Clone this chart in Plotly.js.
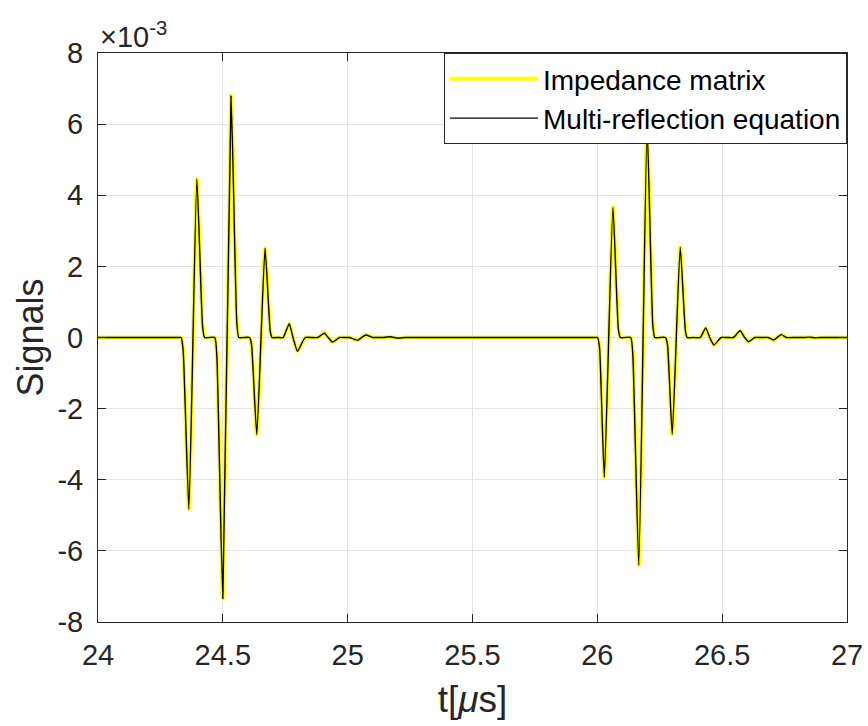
<!DOCTYPE html>
<html>
<head>
<meta charset="utf-8">
<script src="https://cdn.plot.ly/plotly-3.0.1.min.js"></script>
<style>html,body{margin:0;padding:0;background:#fff;}#chart{width:868px;height:726px;}</style>
</head>
<body>
<div id="chart"></div>
<script>
// time axis in microseconds
const timeUs = [
  24.000, 24.100, 24.200, 24.300, 24.320, 24.333, 24.341, 24.364, 24.396, 24.419, 24.427, 24.447,
  24.468, 24.476, 24.500, 24.533, 24.556, 24.564, 24.585,
  24.607, 24.615, 24.636, 24.669, 24.690, 24.697, 24.720,
  24.742, 24.754, 24.766, 24.781, 24.799, 24.815, 24.830, 24.855,
  24.880, 24.907, 24.922, 24.940, 24.967, 24.987,
  25.007, 25.040, 25.056, 25.073, 25.100, 25.120,
  25.140, 25.170, 25.203, 25.230, 25.260, 25.400, 25.600, 25.800, 25.970, 25.988,
  26.001, 26.009, 26.028, 26.0625, 26.084, 26.092, 26.112,
  26.134, 26.142, 26.166, 26.1995, 26.222, 26.230, 26.250,
  26.273, 26.281, 26.300, 26.332, 26.353, 26.360, 26.385,
  26.412, 26.434, 26.450, 26.467, 26.496, 26.520,
  26.545, 26.572, 26.590, 26.606, 26.630, 26.657,
  26.684, 26.706, 26.720, 26.737, 26.757, 26.790,
  26.830, 26.848, 26.875, 26.890, 26.940, 27.000
];
// signal values, in units of 1e-3
const signalE3 = [
  0, 0, 0, 0, 0, 0, -0.35, -4.83, 4.46, 0.30, 0, 0,
  0, -0.52, -7.34, 6.79, 0.42, 0, 0,
  0, -0.20, -2.73, 2.51, 0.17, 0, 0,
  0, 0.20, 0.39, 0, -0.39, -0.18, 0, 0,
  0, 0.12, 0, -0.13, 0, 0,
  0, -0.08, 0, 0.07, 0, 0,
  0, 0.02, -0.02, 0, 0, 0, 0, 0, 0, 0,
  0, -0.30, -3.93, 3.66, 0.25, 0, 0,
  0, -0.46, -6.41, 5.90, 0.38, 0, 0,
  0, -0.20, -2.72, 2.54, 0.17, 0, 0,
  0, 0.27, 0, -0.21, 0, 0,
  0, 0.19, 0, -0.12, 0, 0,
  0, -0.07, 0, 0.08, 0, 0,
  0, 0.01, -0.01, 0, 0, 0
];
const seriesNames = ['Impedance matrix', 'Multi-reflection equation'];
const xTicks = [24, 24.5, 25, 25.5, 26, 26.5, 27];
const xTickText = ['24', '24.5', '25', '25.5', '26', '26.5', '27'];
const yTicks = [-8, -6, -4, -2, 0, 2, 4, 6, 8];
const yTickText = ['-8', '-6', '-4', '-2', '0', '2', '4', '6', '8'];

const FONT = 'Liberation Sans, Arial, Helvetica, sans-serif';
const TXT = '#262626';

const traces = [
  {x: timeUs, y: signalE3, type: 'scatter', mode: 'lines', name: seriesNames[0],
   line: {color: '#FFFF00', width: 4, shape: 'spline', smoothing: 0.5}},
  {x: timeUs, y: signalE3, type: 'scatter', mode: 'lines', name: seriesNames[1],
   line: {color: '#000000', width: 1.4, shape: 'spline', smoothing: 0.5}}
];

const axisCommon = {
  showline: true, linecolor: TXT, linewidth: 1, mirror: 'ticks',
  ticks: 'inside', ticklen: 8, tickcolor: TXT, tickwidth: 1,
  showgrid: true, gridcolor: '#E3E3E3', gridwidth: 1,
  zeroline: false, tickfont: {family: FONT, size: 29, color: TXT}
};

const layout = {
  width: 868, height: 726,
  margin: {l: 98, r: 21, t: 53, b: 104},
  paper_bgcolor: '#fff', plot_bgcolor: '#fff',
  font: {family: FONT, color: TXT},
  showlegend: true,
  legend: {x: 1, xanchor: 'right', y: 1, yanchor: 'top',
    bgcolor: '#fff', bordercolor: TXT, borderwidth: 1,
    font: {family: FONT, size: 28, color: '#000'}, itemwidth: 88,
    tracegroupgap: 0},
  xaxis: Object.assign({}, axisCommon, {
    range: [24, 27], tickvals: xTicks, ticktext: xTickText, ticklabelstandoff: 7,
    title: {text: 't[<i>μ</i>s]', font: {family: FONT, size: 37, color: TXT}, standoff: 16}
  }),
  yaxis: Object.assign({}, axisCommon, {
    range: [-8, 8], tickvals: yTicks, ticktext: yTickText, ticklabelstandoff: 8,
    title: {text: 'Signals', font: {family: FONT, size: 36, color: TXT}, standoff: 2}
  }),
  annotations: [{
    xref: 'paper', yref: 'paper', x: 0, y: 1, xanchor: 'left', yanchor: 'bottom',
    yshift: -2, showarrow: false,
    text: '×10<sup>-3</sup>', font: {family: FONT, size: 29, color: TXT}
  }]
};

Plotly.newPlot('chart', traces, layout, {displayModeBar: false, staticPlot: true});
</script>
</body>
</html>
